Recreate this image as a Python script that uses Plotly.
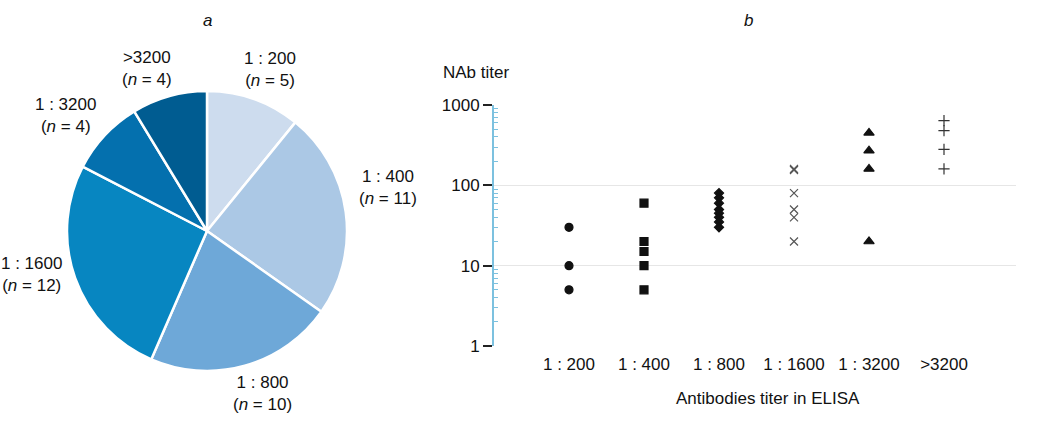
import plotly.graph_objects as go

# ---- data ----
pie_labels = ["1 : 200", "1 : 400", "1 : 800", "1 : 1600", "1 : 3200", ">3200"]
pie_counts = [5, 11, 10, 12, 4, 4]
pie_colors = ["#cddcee", "#abc8e5", "#6ea8d8", "#0786c1", "#0470ae", "#005c91"]

categories = ["1 : 200", "1 : 400", "1 : 800", "1 : 1600", "1 : 3200", ">3200"]
titer_200 = [30, 10, 5]
titer_400 = [60, 20, 15, 10, 5]
titer_800 = [80, 70, 60, 50, 45, 40, 35, 30]
titer_1600 = [160, 155, 80, 50, 40, 20]
titer_3200 = [450, 270, 160, 20]
titer_gt3200 = [640, 480, 280, 160]
y_ticks = [1, 10, 100, 1000]

series = [
    (titer_200, "circle", 8, "#111111"),
    (titer_400, "square", 8, "#111111"),
    (titer_800, "diamond", 7, "#111111"),
    (titer_1600, "x-thin", 8, "#555555"),
    (titer_3200, "triangle-up", 9, "#111111"),
    (titer_gt3200, "cross-thin", 8, "#333333"),
]

# label placement (pixel centres in the 1050x428 picture)
pie_label_pos = [(270, 70, "center"), (388, 188, "center"), (262, 393, "center"),
                 (31, 274, "center"), (65, 116, "center"), (147, 68, "center")]

W, H = 1050, 428
def px(x):
    return x / W
def py(y):
    return 1 - y / H

FONT = "Liberation Sans, Arial, sans-serif"

fig = go.Figure()

fig.add_trace(go.Pie(
    labels=pie_labels,
    values=pie_counts,
    sort=False,
    direction="clockwise",
    rotation=0,
    marker=dict(colors=pie_colors, line=dict(color="white", width=2.5)),
    textinfo="none",
    domain=dict(x=[px(67), px(347)], y=[py(371), py(91)]),
    showlegend=False,
    hoverinfo="label+value",
    automargin=False,
))

minor_vals = [m * 10 ** e for e in range(0, 3) for m in range(2, 10)]

for i, (vals, sym, size, col) in enumerate(series):
    fig.add_trace(go.Scatter(
        x=[categories[i]] * len(vals),
        y=vals,
        mode="markers",
        marker=dict(symbol=sym, size=size, color=col,
                    line=dict(color=col, width=1.2)),
        xaxis="x", yaxis="y",
        showlegend=False,
    ))

annotations = [
    dict(text="<i>a</i>", x=px(207), y=py(20)),
    dict(text="<i>b</i>", x=px(748), y=py(20)),
    dict(text="NAb titer", x=px(441), y=py(72), xanchor="left"),
    dict(text="Antibodies titer in ELISA", x=px(768), y=py(398)),
]
for lab, n, (lx, ly, anc) in zip(pie_labels, pie_counts, pie_label_pos):
    annotations.append(dict(text=f"{lab}<br>(<i>n</i> = {n})", x=px(lx), y=py(ly),
                            xanchor=anc, align="center"))
for a in annotations:
    a.update(xref="paper", yref="paper", showarrow=False, yanchor="middle",
             font=dict(size=17, family=FONT, color="#111111"))
    a.setdefault("xanchor", "center")

fig.update_layout(
    template="none",
    width=W, height=H,
    autosize=False,
    margin=dict(l=0, r=0, t=0, b=0, pad=0, autoexpand=False),
    paper_bgcolor="white",
    plot_bgcolor="white",
    showlegend=False,
    font=dict(family=FONT, size=17, color="#111111"),
    xaxis=dict(
        domain=[px(494), px(1016)],
        type="category",
        categoryorder="array",
        categoryarray=categories,
        range=[-1, 5.96],
        automargin=False,
        showgrid=False,
        showline=False,
        zeroline=False,
        ticks="",
        ticklabelstandoff=6,
        tickfont=dict(size=17, family=FONT, color="#111111"),
        anchor="y",
    ),
    yaxis=dict(
        domain=[py(346), py(105)],
        type="log",
        range=[0, 3],
        automargin=False,
        tickvals=y_ticks,
        ticktext=[str(v) for v in y_ticks],
        ticks="outside",
        ticklen=9,
        tickwidth=1.5,
        tickcolor="#222222",
        showline=True,
        linecolor="#7cc1df",
        linewidth=2,
        showgrid=True,
        gridcolor="#e6e6e6",
        gridwidth=1,
        zeroline=False,
        tickfont=dict(size=17, family=FONT, color="#111111"),
        minor=dict(tickvals=minor_vals, ticks="inside", ticklen=4,
                   tickcolor="#7cc1df", tickwidth=1, showgrid=False),
        anchor="x",
    ),
    annotations=annotations,
)

fig.write_html("out.html", config={"displayModeBar": False},
               post_script="document.body.style.margin='0';")
